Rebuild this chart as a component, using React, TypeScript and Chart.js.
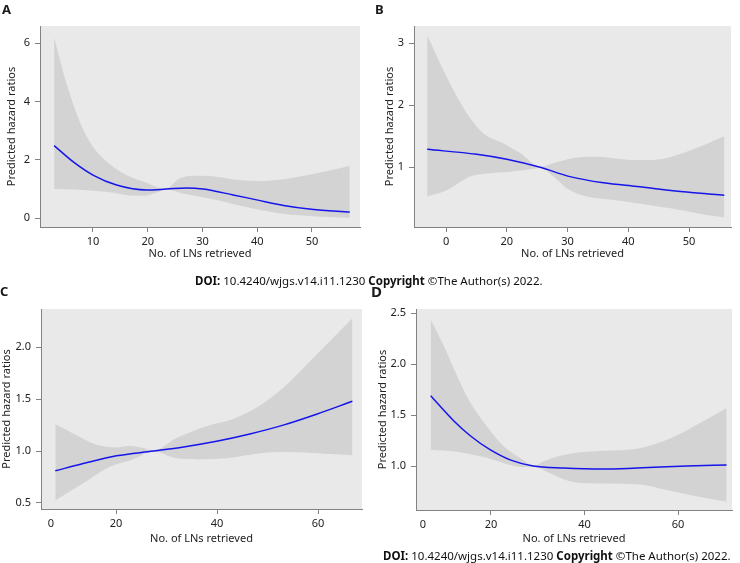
import React, { useEffect, useRef } from 'react';
import { Chart, registerables } from 'chart.js';

Chart.register(...registerables);

// ---------- Panel A ----------
const lineAX = [2.9, 6.4, 10.0, 14.3, 19.8, 23.4, 27.1, 30.1, 35.6, 39.9, 44.8, 49.9, 56.9];
const lineAY = [2.49, 1.93, 1.48, 1.14, 0.97, 1.0, 1.04, 1.0, 0.8, 0.63, 0.44, 0.31, 0.21];
const upperAX = [2.9, 5.2, 7.6, 10.0, 13.1, 16.1, 19.8, 23.2, 25.9, 28.3, 31.9, 35.6, 39.9, 44.8, 50.8, 56.9];
const upperAY = [6.2, 4.6, 3.3, 2.45, 1.85, 1.48, 1.22, 1.01, 1.37, 1.46, 1.44, 1.33, 1.28, 1.34, 1.54, 1.79];
const lowerAX = [2.9, 8.2, 13.1, 16.8, 19.2, 21.6, 23.2, 26.4, 30.8, 35.6, 39.9, 44.8, 50.8, 56.9];
const lowerAY = [1.0, 0.97, 0.89, 0.78, 0.77, 0.87, 0.99, 0.85, 0.69, 0.49, 0.31, 0.15, 0.06, 0.02];
const xTicksA = [10, 20, 30, 40, 50];
const xLabelsA = ['10', '20', '30', '40', '50'];
const yTicksA = [0, 2, 4, 6];
const yLabelsA = ['0', '2', '4', '6'];

// ---------- Panel B ----------
const lineBX = [6.9, 15.05, 20.0, 25.5, 30.4, 35.9, 41.4, 49.6, 55.8];
const lineBY = [1.29, 1.21, 1.13, 1.0, 0.85, 0.75, 0.69, 0.6, 0.55];
const upperBX = [6.9, 9.55, 11.8, 14.0, 16.1, 19.4, 22.2, 25.5, 28.2, 31.5, 34.8, 40.3, 44.1, 49.6, 55.8];
const upperBY = [3.13, 2.57, 2.14, 1.79, 1.55, 1.39, 1.23, 1.01, 1.08, 1.16, 1.17, 1.12, 1.12, 1.25, 1.5];
const lowerBX = [6.9, 10.1, 14.0, 16.7, 20.5, 23.3, 25.5, 27.7, 29.9, 33.2, 37.0, 41.4, 46.9, 52.4, 55.8];
const lowerBY = [0.53, 0.63, 0.85, 0.9, 0.93, 0.96, 0.99, 0.85, 0.66, 0.53, 0.48, 0.42, 0.34, 0.24, 0.19];
const xTicksB = [10, 20, 30, 40, 50];
const xLabelsB = ['0', '20', '30', '40', '50'];
const yTicksB = [1, 2, 3];
const yLabelsB = ['1', '2', '3'];

// ---------- Panel C ----------
const lineCX = [7.98, 13.5, 20.1, 27.4, 33.4, 39.9, 46.5, 53.1, 59.7, 66.8];
const lineCY = [0.81, 0.88, 0.955, 1.0, 1.04, 1.095, 1.165, 1.25, 1.355, 1.48];
const upperCX = [7.98, 11.5, 16.2, 20.1, 22.8, 25.4, 27.4, 32.0, 37.9, 43.2, 48.5, 53.1, 59.7, 66.8];
const upperCY = [1.26, 1.17, 1.06, 1.035, 1.05, 1.03, 1.005, 1.125, 1.24, 1.31, 1.44, 1.61, 1.93, 2.28];
const lowerCX = [7.98, 13.5, 18.8, 23.4, 27.4, 32.0, 36.6, 41.9, 48.5, 53.1, 59.7, 66.8];
const lowerCY = [0.525, 0.69, 0.85, 0.92, 0.995, 0.93, 0.92, 0.93, 0.98, 0.99, 0.98, 0.96];
const xTicksC = [7.1, 20, 40, 60];
const xLabelsC = ['0', '20', '40', '60'];
const yTicksC = [0.5, 1.0, 1.5, 2.0];
const yLabelsC = ['0.5', '1.0', '1.5', '2.0'];

// ---------- Panel D ----------
const lineDX = [7.1, 11.9, 15.5, 19.8, 24.1, 29.0, 35.5, 44.0, 51.2, 61.9, 70.4];
const lineDY = [1.69, 1.45, 1.3, 1.16, 1.06, 1.0, 0.98, 0.97, 0.98, 1.0, 1.01];
const upperDX = [7.1, 9.8, 12.7, 15.5, 19.1, 22.6, 26.2, 29.0, 31.9, 36.9, 44.0, 51.2, 58.3, 65.4, 70.4];
const upperDY = [2.44, 2.19, 1.89, 1.63, 1.39, 1.2, 1.08, 1.005, 1.06, 1.12, 1.15, 1.17, 1.27, 1.44, 1.57];
const lowerDX = [7.1, 12.7, 19.1, 24.1, 26.9, 29.0, 32.6, 36.9, 40.5, 51.2, 56.1, 62.0, 70.4];
const lowerDY = [1.16, 1.14, 1.08, 1.01, 0.99, 0.995, 0.93, 0.85, 0.83, 0.82, 0.78, 0.72, 0.65];
const xTicksD = [5.45, 20, 40, 60];
const xLabelsD = ['0', '20', '40', '60'];
const yTicksD = [1.0, 1.5, 2.0, 2.5];
const yLabelsD = ['1.0', '1.5', '2.0', '2.5'];

const X_TITLE = 'No. of LNs retrieved';
const Y_TITLE = 'Predicted hazard ratios';
const DOI_TEXT = '10.4240/wjgs.v14.i11.1230';
const COPY_TEXT = '©The Author(s) 2022.';

const FONT = '"Noto Sans", "DejaVu Sans", sans-serif';
const BLUE = 'rgb(20,20,235)';
const BAND = 'rgb(211,211,211)';
const PLOT_BG = 'rgb(233,233,233)';
const AXIS = 'rgb(130,130,130)';
const TEXT = '#222';

const pts = (xs: number[], ys: number[]) => xs.map((x, i) => ({ x, y: ys[i] }));

const bgPlugin = {
  id: 'plotBg',
  beforeDraw(chart: any) {
    const { ctx, chartArea } = chart;
    ctx.save();
    ctx.fillStyle = PLOT_BG;
    ctx.fillRect(chartArea.left, chartArea.top, chartArea.right - chartArea.left, chartArea.bottom - chartArea.top);
    ctx.restore();
  },
};

type PanelProps = {
  left: number; top: number; w: number; h: number;
  padT: number; padR: number; yAxisW: number; xAxisH: number;
  yTitlePad: number; xTitlePad: number;
  xMin: number; xMax: number; yMin: number; yMax: number;
  lineX: number[]; lineY: number[]; upX: number[]; upY: number[]; loX: number[]; loY: number[];
  xTicks: number[]; xLabels: string[]; yTicks: number[]; yLabels: string[];
  hideFirstXTick?: boolean;
};

function Panel(p: PanelProps) {
  const ref = useRef<HTMLCanvasElement>(null);
  useEffect(() => {
    const font = { family: FONT, size: 11 };
    const chart = new Chart(ref.current as HTMLCanvasElement, {
      type: 'line',
      data: {
        datasets: [
          { data: pts(p.lineX, p.lineY), borderColor: BLUE, borderWidth: 1.5, pointRadius: 0, fill: false, cubicInterpolationMode: 'monotone' },
          { data: pts(p.upX, p.upY), borderColor: 'rgba(0,0,0,0)', borderWidth: 0, backgroundColor: BAND, pointRadius: 0, fill: '+1', cubicInterpolationMode: 'monotone' },
          { data: pts(p.loX, p.loY), borderColor: 'rgba(0,0,0,0)', borderWidth: 0, pointRadius: 0, fill: false, cubicInterpolationMode: 'monotone' },
        ],
      } as any,
      options: {
        responsive: false,
        animation: false,
        devicePixelRatio: 1,
        events: [],
        layout: { padding: { left: 0, top: p.padT, right: p.padR, bottom: 0 } },
        plugins: { legend: { display: false }, tooltip: { enabled: false }, title: { display: false } },
        scales: {
          x: {
            type: 'linear',
            min: p.xMin,
            max: p.xMax,
            bounds: 'data',
            afterBuildTicks: (s: any) => { s.ticks = p.xTicks.map((v) => ({ value: v })); },
            afterFit: (s: any) => { s.height = p.xAxisH; },
            ticks: {
              autoSkip: false,
              maxRotation: 0,
              padding: 3,
              color: TEXT,
              font,
              callback: (_v: any, i: number) => p.xLabels[i],
            },
            grid: {
              drawOnChartArea: false,
              tickLength: 5,
              color: (ctx: any) => (p.hideFirstXTick && ctx.index === 0 ? 'rgba(0,0,0,0)' : AXIS),
            },
            border: { display: true, color: AXIS, width: 1 },
            title: { display: true, text: X_TITLE, color: TEXT, font, padding: { top: 0, bottom: p.xTitlePad } },
          },
          y: {
            type: 'linear',
            min: p.yMin,
            max: p.yMax,
            bounds: 'data',
            afterBuildTicks: (s: any) => { s.ticks = p.yTicks.map((v) => ({ value: v })); },
            afterFit: (s: any) => { s.width = p.yAxisW; },
            ticks: {
              autoSkip: false,
              padding: 5,
              color: TEXT,
              font,
              callback: (_v: any, i: number) => p.yLabels[i],
            },
            grid: { drawOnChartArea: false, tickLength: 5, color: AXIS },
            border: { display: true, color: AXIS, width: 1 },
            title: { display: true, text: Y_TITLE, color: TEXT, font, padding: { top: p.yTitlePad, bottom: 0 } },
          },
        },
      } as any,
      plugins: [bgPlugin],
    });
    return () => chart.destroy();
  }, []);
  return (
    <canvas
      ref={ref}
      width={p.w}
      height={p.h}
      style={{ position: 'absolute', left: p.left, top: p.top, width: p.w, height: p.h }}
    />
  );
}

const letterStyle = (left: number, top: number, size: number): React.CSSProperties => ({
  position: 'absolute', left, top, fontFamily: FONT, fontWeight: 700, fontSize: size, lineHeight: `${size}px`, color: '#1a1a1a', whiteSpace: 'nowrap',
});

const doiStyle = (left: number, top: number): React.CSSProperties => ({
  position: 'absolute', left, top, fontFamily: FONT, fontSize: 11.5, lineHeight: '11.5px', color: '#111', whiteSpace: 'nowrap',
});

function Doi({ left, top }: { left: number; top: number }) {
  return (
    <div style={doiStyle(left, top)}>
      <b>DOI:</b> {DOI_TEXT} <b>Copyright</b> {COPY_TEXT}
    </div>
  );
}

export default function App() {
  return (
    <div style={{ position: 'absolute', left: 0, top: 0, width: 740, height: 563, overflow: 'hidden', background: '#fff' }}>
      <Panel left={0} top={12} w={366} h={258} padT={14} padR={6} yAxisW={40} xAxisH={43} yTitlePad={5} xTitlePad={10}
        xMin={0.32} xMax={58.77} yMin={-0.3} yMax={6.59}
        lineX={lineAX} lineY={lineAY} upX={upperAX} upY={upperAY} loX={lowerAX} loY={lowerAY}
        xTicks={xTicksA} xLabels={xLabelsA} yTicks={yTicksA} yLabels={yLabelsA} />
      <Panel left={370} top={12} w={366} h={258} padT={14} padR={5} yAxisW={44} xAxisH={43} yTitlePad={13} xTitlePad={10}
        xMin={4.73} xMax={56.9} yMin={0.037} yMax={3.28}
        lineX={lineBX} lineY={lineBY} upX={upperBX} upY={upperBY} loX={lowerBX} loY={lowerBY}
        xTicks={xTicksB} xLabels={xLabelsB} yTicks={yTicksB} yLabels={yLabelsB} />
      <Panel left={0} top={295} w={366} h={255} padT={14} padR={4} yAxisW={41} xAxisH={41} yTitlePad={0} xTitlePad={5}
        xMin={5.15} xMax={68.7} yMin={0.442} yMax={2.369}
        lineX={lineCX} lineY={lineCY} upX={upperCX} upY={upperCY} loX={lowerCX} loY={lowerCY}
        xTicks={xTicksC} xLabels={xLabelsC} yTicks={yTicksC} yLabels={yLabelsC} hideFirstXTick />
      <Panel left={370} top={295} w={366} h={255} padT={14} padR={4} yAxisW={46} xAxisH={40} yTitlePad={6} xTitlePad={5}
        xMin={3.96} xMax={71.55} yMin={0.568} yMax={2.542}
        lineX={lineDX} lineY={lineDY} upX={upperDX} upY={upperDY} loX={lowerDX} loY={lowerDY}
        xTicks={xTicksD} xLabels={xLabelsD} yTicks={yTicksD} yLabels={yLabelsD} hideFirstXTick />
      <div style={letterStyle(2, 3, 13)}>A</div>
      <div style={letterStyle(375, 3, 13)}>B</div>
      <div style={letterStyle(0, 285, 13)}>C</div>
      <div style={letterStyle(371, 284, 15)}>D</div>
      <Doi left={195} top={275} />
      <Doi left={383} top={550} />
    </div>
  );
}
